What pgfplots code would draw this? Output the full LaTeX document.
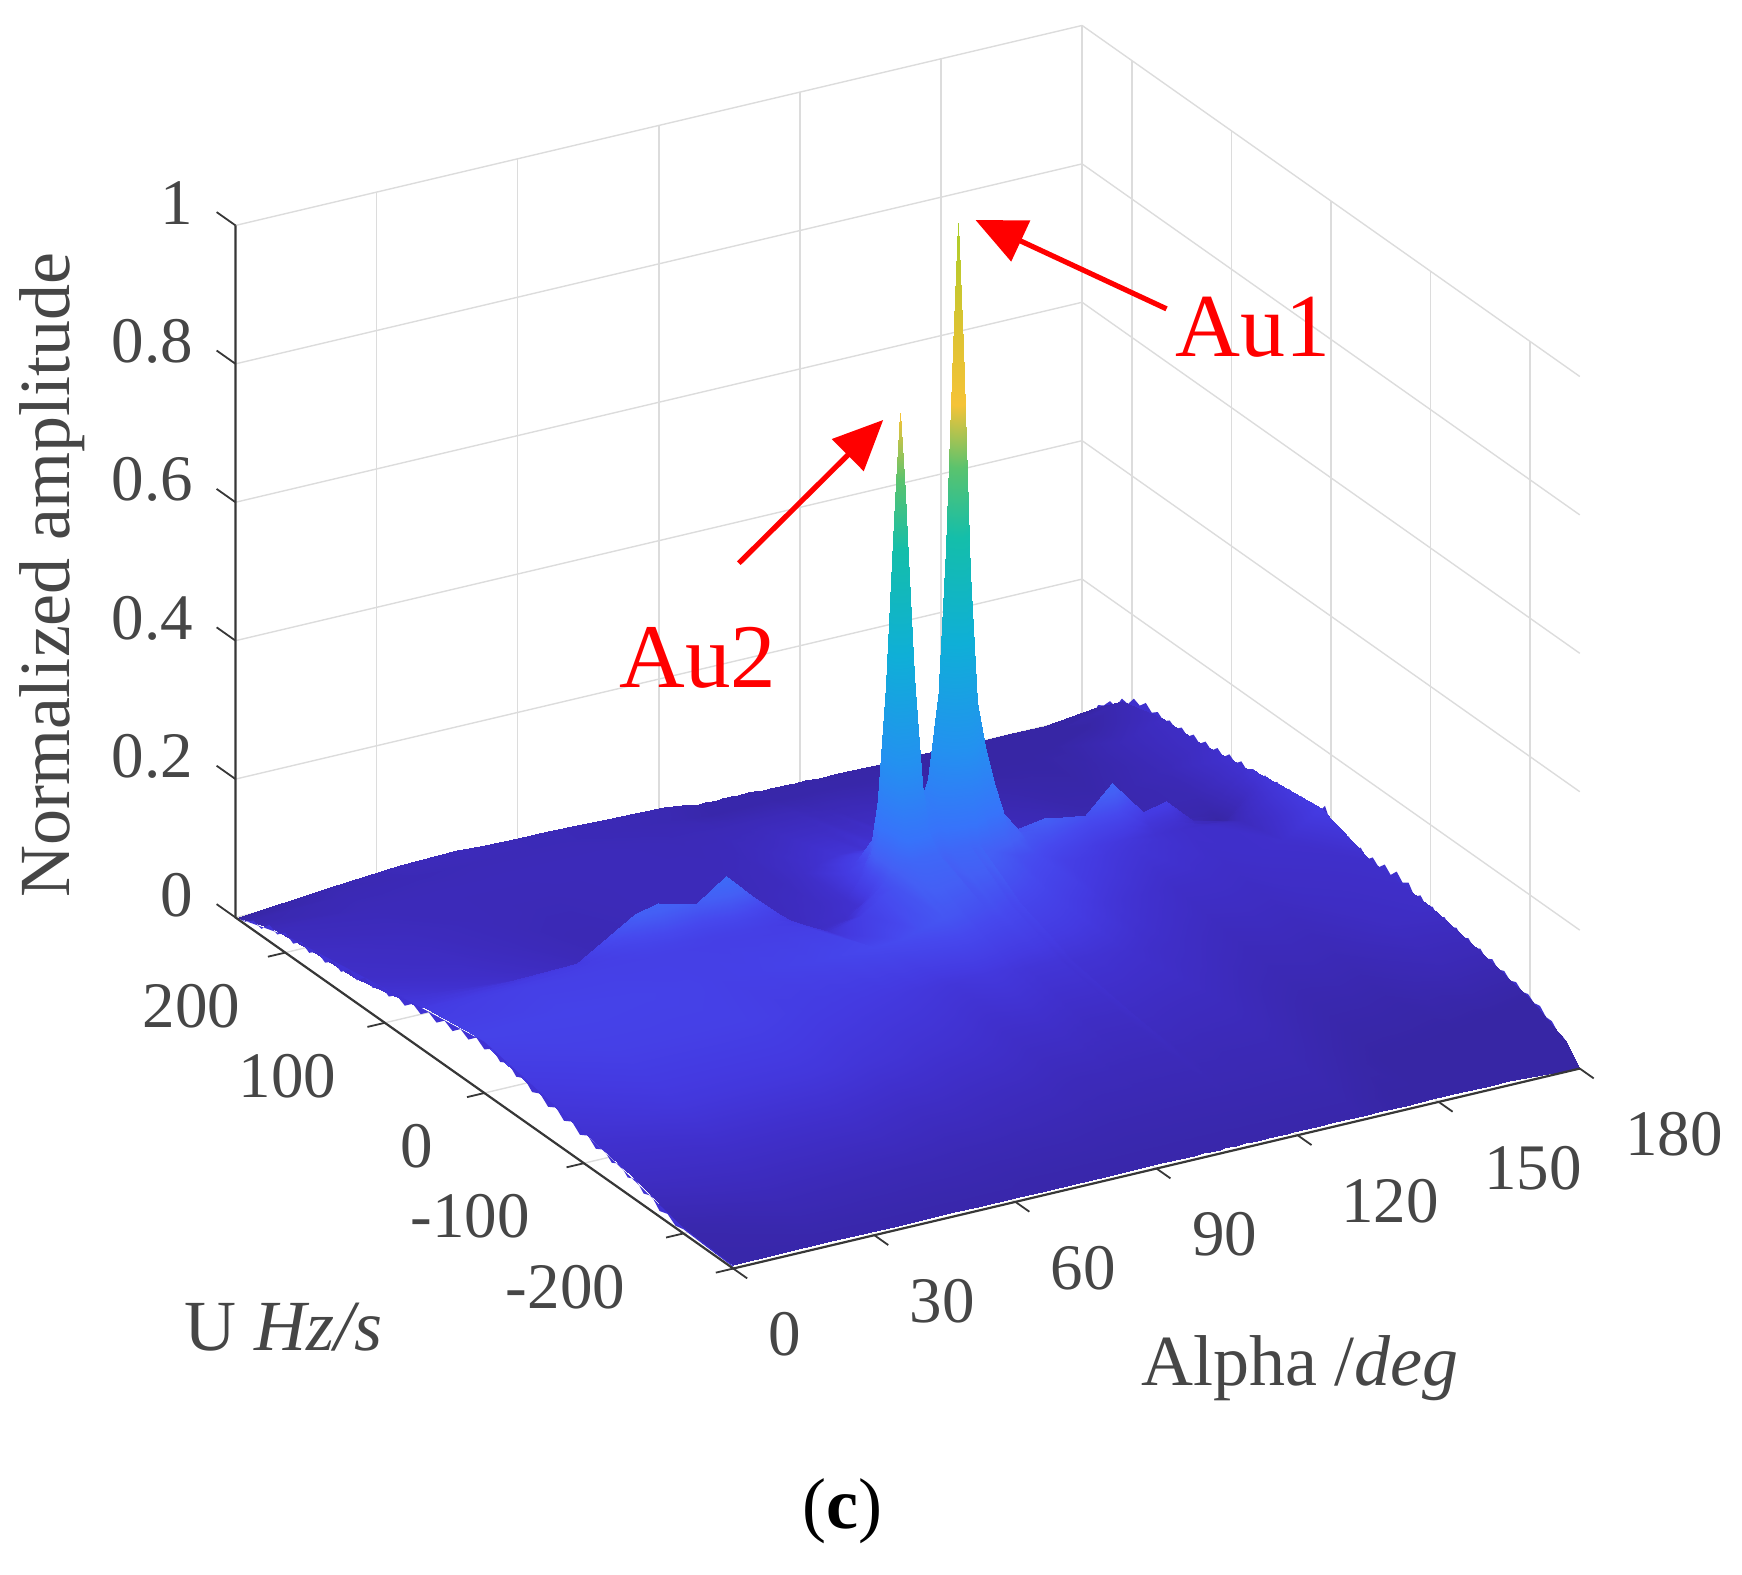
\documentclass[border=0pt]{standalone}
\usepackage{fontspec}
\setmainfont{Liberation Serif}
\usepackage{pgfplots}
\pgfplotsset{compat=1.18}
\usetikzlibrary{calc,arrows.meta}

\definecolor{axdark}{RGB}{55,55,55}
\definecolor{ticktext}{RGB}{70,70,70}
\definecolor{wall}{RGB}{220,220,220}
\definecolor{toothback}{RGB}{62,48,205}
\definecolor{toothfront}{RGB}{64,50,212}

\pgfplotsset{
  colormap={lit parula}{
    rgb255(0pt)=(55,38,165); rgb255(20pt)=(60,42,185); rgb255(40pt)=(64,48,205);
    rgb255(60pt)=(68,58,225); rgb255(85pt)=(70,72,238); rgb255(110pt)=(68,95,245);
    rgb255(150pt)=(55,115,250); rgb255(250pt)=(35,145,240); rgb255(400pt)=(15,175,215);
    rgb255(550pt)=(20,190,170); rgb255(650pt)=(90,195,110); rgb255(740pt)=(245,195,55);
    rgb255(850pt)=(220,195,50); rgb255(1000pt)=(170,205,40)
  }
}

% surface values, one \row per Alpha, z in the order of the U values below
\def\ulist{250,235,210,170,130,100,85.5,79.5,75.5,73,71,69,66.5,63,58,50.5,10,-40,-100,-150,-200,-235,-250}
\def\surfpts{}
\def\stepp#1,#2;#3,#4;{\xdef\surfpts{\surfpts(\cura,#1,#3) }\ifx\relax#2\relax\else\stepp#2;#4;\fi}
\newcommand\row[2]{\def\cura{#1}\edef\tmp{\noexpand\stepp\ulist,;#2,;}\tmp}

\row{180}{0,.03,.065,.08,.083,.092,.094,.098,.10,.10,.10,.101,.101,.102,.103,.105,.113,.087,.083,.068,.05,.026,0}
\row{172}{0,.012,.04,.06,.06,.055,.05,.045,.04,.04,.04,.045,.05,.055,.06,.065,.08,.075,.07,.058,.04,.02,.003}
\row{165}{.001,.006,.022,.04,.045,.045,.045,.05,.055,.056,.058,.06,.06,.06,.065,.07,.07,.065,.055,.045,.03,.015,.006}
\row{160}{.001,.005,.018,.03,.035,.04,.042,.05,.07,.085,.093,.09,.08,.072,.066,.066,.062,.055,.045,.035,.024,.012,.006}
\row{155}{.001,.005,.016,.026,.03,.035,.04,.048,.062,.078,.085,.082,.074,.07,.066,.066,.058,.05,.04,.03,.02,.01,.006}
\row{148.5}{.002,.006,.014,.022,.03,.035,.045,.06,.09,.12,.137,.125,.105,.085,.07,.065,.05,.04,.03,.022,.014,.008,.006}
\row{143}{.002,.005,.013,.02,.028,.033,.04,.055,.08,.095,.10,.098,.09,.08,.07,.065,.05,.038,.027,.02,.013,.007,.006}
\row{138}{.002,.004,.012,.019,.026,.031,.04,.055,.08,.098,.105,.102,.095,.085,.075,.067,.05,.037,.026,.019,.012,.007,.006}
\row{134}{.002,.004,.012,.018,.025,.03,.04,.055,.08,.10,.11,.108,.10,.09,.08,.07,.052,.036,.026,.018,.012,.007,.006}
\row{128}{.003,.004,.013,.025,.035,.05,.069,.076,.094,.10,.10,.10,.104,.102,.096,.088,.063,.042,.027,.018,.012,.007,.006}
\row{124}{.003,.005,.014,.027,.039,.057,.088,.107,.133,.143,.144,.143,.14,.134,.117,.094,.07,.044,.028,.018,.012,.007,.006}
\row{121}{.004,.005,.015,.028,.04,.064,.107,.157,.212,.237,.242,.237,.22,.187,.144,.103,.072,.046,.029,.019,.012,.007,.006}
\row{119}{.004,.005,.015,.028,.042,.068,.11,.18,.27,.32,.33,.32,.28,.21,.15,.108,.073,.046,.03,.019,.012,.007,.006}
\row{117.7}{.004,.005,.015,.028,.043,.072,.13,.23,.40,.52,.56,.52,.40,.27,.17,.111,.073,.046,.03,.019,.012,.007,.006}
\row{116.7}{.004,.005,.015,.03,.045,.077,.138,.27,.50,.73,.82,.73,.51,.30,.18,.112,.073,.046,.03,.02,.012,.007,.006}
\row{115.7}{.004,.005,.015,.032,.045,.078,.149,.297,.586,.887,1.0,.885,.6,.345,.2,.125,.08,.05,.035,.022,.012,.007,.006}
\row{114.7}{.004,.005,.015,.03,.045,.077,.14,.27,.50,.73,.82,.73,.51,.30,.18,.115,.075,.047,.03,.02,.012,.007,.006}
\row{113.7}{.004,.005,.016,.03,.046,.08,.14,.24,.41,.53,.57,.53,.41,.28,.18,.125,.08,.05,.03,.02,.012,.007,.006}
\row{112.2}{.004,.005,.016,.03,.047,.085,.13,.2,.28,.33,.34,.33,.29,.23,.17,.125,.08,.05,.03,.02,.012,.007,.006}
\row{110.2}{.006,.006,.018,.033,.049,.08,.115,.16,.2,.212,.215,.212,.205,.19,.155,.122,.083,.05,.03,.02,.012,.007,.006}
\row{108.9}{.006,.006,.018,.032,.045,.07,.10,.135,.17,.18,.18,.18,.175,.17,.145,.11,.08,.05,.03,.02,.012,.007,.006}
\row{106.9}{.006,.006,.018,.032,.048,.081,.115,.15,.19,.2,.2,.2,.195,.175,.15,.124,.082,.05,.03,.02,.012,.007,.006}
\row{105.4}{.006,.006,.018,.032,.048,.08,.138,.225,.36,.44,.46,.44,.365,.26,.175,.123,.082,.052,.032,.02,.012,.007,.006}
\row{104.4}{.006,.006,.018,.032,.048,.08,.14,.243,.418,.568,.628,.568,.42,.278,.179,.123,.082,.052,.032,.02,.012,.007,.006}
\row{103.4}{.006,.006,.018,.032,.048,.079,.138,.25,.455,.66,.744,.66,.46,.286,.18,.122,.084,.054,.033,.02,.012,.007,.006}
\row{102.4}{.006,.006,.018,.032,.048,.078,.135,.235,.41,.56,.62,.56,.415,.27,.175,.12,.084,.054,.033,.02,.012,.007,.006}
\row{101.4}{.006,.006,.018,.032,.046,.075,.125,.22,.35,.43,.45,.43,.355,.255,.17,.118,.084,.055,.034,.021,.012,.007,.006}
\row{99.9}{.006,.006,.018,.03,.044,.07,.09,.125,.15,.165,.17,.165,.155,.145,.125,.11,.084,.056,.035,.021,.012,.007,.006}
\row{97.9}{.006,.006,.018,.028,.04,.06,.07,.085,.09,.095,.095,.095,.095,.095,.095,.09,.08,.056,.035,.021,.012,.007,.006}
\row{95}{.01,.008,.018,.026,.034,.04,.04,.042,.043,.044,.045,.05,.055,.065,.075,.08,.074,.055,.035,.021,.012,.007,.006}
\row{91}{.013,.012,.018,.022,.025,.03,.033,.035,.036,.036,.036,.036,.038,.042,.05,.06,.066,.052,.035,.022,.012,.007,.006}
\row{85}{.015,.014,.018,.02,.022,.025,.027,.028,.03,.03,.03,.03,.032,.034,.038,.044,.064,.055,.04,.025,.013,.007,.006}
\row{79}{.016,.016,.019,.02,.02,.022,.025,.03,.04,.05,.052,.054,.056,.058,.06,.062,.064,.058,.043,.026,.014,.007,.006}
\row{72.6}{.017,.017,.02,.02,.02,.022,.028,.04,.065,.085,.093,.09,.08,.072,.066,.064,.064,.06,.045,.028,.014,.007,.006}
\row{66.5}{.018,.018,.02,.02,.02,.022,.028,.045,.09,.122,.135,.122,.1,.08,.07,.066,.066,.062,.048,.03,.015,.007,.006}
\row{60}{.018,.018,.02,.019,.018,.02,.027,.042,.075,.098,.105,.1,.09,.078,.07,.068,.068,.064,.05,.03,.015,.008,.006}
\row{52}{.02,.018,.02,.018,.016,.018,.026,.042,.08,.11,.119,.112,.098,.084,.074,.07,.07,.068,.054,.033,.016,.008,.006}
\row{47}{.022,.018,.02,.018,.016,.018,.025,.04,.075,.102,.111,.105,.092,.08,.073,.07,.072,.07,.055,.035,.016,.008,.006}
\row{35}{.02,.017,.02,.02,.022,.026,.03,.038,.048,.056,.06,.062,.064,.066,.068,.07,.074,.07,.055,.035,.017,.008,.006}
\row{20}{.012,.016,.02,.025,.03,.035,.04,.046,.05,.054,.055,.057,.06,.062,.066,.07,.075,.07,.055,.035,.018,.008,.006}
\row{0}{0,.01,.022,.03,.035,.045,.05,.052,.053,.055,.055,.056,.057,.06,.062,.065,.074,.06,.045,.03,.008,.005,.005}

\newcommand\plotsurface[1]{%
  \addplot3[surf, shader=interp, z buffer=sort, mesh/ordering=y varies, mesh/rows=23, mesh/cols=41,
    point meta={max(0,z-0.05*max(0,x-135)/45+0.025*max(0,1-abs(x-90)/35)*max(0,1-abs(y-15)/50))}] coordinates {#1};}

\begin{document}
\begin{tikzpicture}
\begin{axis}[
  clip=false,
  x={(2.352pt,0.5556pt)}, y={(-0.4978pt,0.3511pt)}, z={(0pt,346.1pt)},
  xmin=0, xmax=180, ymin=-250, ymax=250, zmin=0, zmax=1,
  colormap name=lit parula,
  point meta min=0, point meta max=1,
  xtick={0,30,60,90,120,150,180},
  ytick={-200,-100,0,100,200},
  ztick={0,0.2,0.4,0.6,0.8,1},
  xticklabels={0,30,60,90,\hspace{4pt}120,\hspace{5pt}150,\hspace{5pt}180},
  yticklabels={-200\hspace{3.3pt}\null,-100\hspace{1.1pt}\null,0,100\hspace{-1.7pt}\null,200\hspace{-3.3pt}\null},
  zticklabels={0,0.2,0.4,0.6,0.8,1},
  grid=major,
  grid style={wall, line width=0.7pt},
  axis line style={draw=none},
  tick align=outside,
  major tick length=10pt,
  tick style={draw=none},
  tick label style={font=\fontsize{32.5}{36}\selectfont, text=ticktext, inner sep=0pt},
  xticklabel style={anchor=west, xshift=9.4pt, yshift=-27.2pt},
  yticklabel style={anchor=east, xshift=-16pt, yshift=-24.4pt},
  zticklabel style={anchor=east, xshift=-12.8pt, yshift=5.5pt},
  label style={font=\fontsize{36}{40}\selectfont, text=ticktext},
  xlabel={Alpha /\textit{deg}},
  ylabel={U \textit{Hz/s}},
  zlabel={Normalized amplitude},
  xlabel style={at={(axis cs:120.5,-250,-0.338)}, anchor=center},
  ylabel style={at={(axis cs:0,202,-0.5437)}, anchor=center},
  zlabel style={at={(axis cs:0,434.1,0.308)}, anchor=center},
]
\addplot3[fill=toothback, draw=none] coordinates {
  (180,250,0)(180,240,.012)(180,234,.034)(180,228,.04)(180,222,.052)(180,216,.05)(180,210,.068)(180,204,.066)
  (180,198,.08)(180,192,.076)(180,186,.086)(180,180,.078)(180,174,.085)(180,168,.078)(180,162,.085)(180,156,.079)
  (180,150,.087)(180,144,.08)(180,138,.089)(180,132,.082)(180,126,.091)(180,120,.084)(180,114,.094)(180,108,.087)
  (180,102,.097)(180,96,.09)(180,90,.099)(180,84,.091)(180,78,.1)(180,72,.093)(180,66,.103)(180,60,.096)
  (180,54,.106)(180,48,.098)(180,42,.108)(180,36,.1)(180,30,.11)(180,24,.102)(180,18,.112)(180,12,.105)
  (180,6,.12)(180,0,.1)(180,-6,.105)(180,-12,.092)(180,-18,.1)(180,-24,.088)(180,-30,.096)(180,-36,.085)
  (180,-42,.094)(180,-48,.086)(180,-54,.096)(180,-60,.087)(180,-66,.098)(180,-72,.088)(180,-78,.094)(180,-84,.08)
  (180,-90,.088)(180,-96,.077)(180,-102,.084)(180,-108,.074)(180,-114,.081)(180,-120,.072)(180,-126,.078)(180,-132,.069)
  (180,-138,.075)(180,-144,.066)(180,-150,.072)(180,-156,.063)(180,-162,.069)(180,-168,.06)(180,-174,.064)(180,-180,.056)
  (180,-186,.06)(180,-192,.052)(180,-198,.055)(180,-204,.048)(180,-210,.05)(180,-216,.04)(180,-222,.04)(180,-228,.03)
  (180,-234,.028)(180,-240,.016)(180,-246,.008)(180,-250,0)};
\expandafter\plotsurface\expandafter{\surfpts}
\addplot3[fill=toothfront, draw=none] coordinates {
  (0,250,0)(0,240,.004)(0,232,.014)(0,224,.01)(0,216,.024)(0,208,.018)(0,200,.029)(0,192,.021)(0,184,.032)(0,176,.024)
  (0,168,.034)(0,160,.026)(0,152,.036)(0,144,.029)(0,136,.04)(0,128,.033)(0,120,.045)(0,112,.038)(0,104,.05)(0,96,.042)
  (0,88,.052)(0,80,.045)(0,72,.056)(0,64,.049)(0,56,.06)(0,48,.053)(0,40,.064)(0,32,.057)(0,24,.068)(0,16,.061)
  (0,8,.072)(0,0,.063)(0,-8,.072)(0,-16,.061)(0,-24,.068)(0,-32,.056)(0,-40,.062)(0,-48,.05)(0,-56,.056)(0,-64,.045)
  (0,-72,.052)(0,-80,.041)(0,-88,.048)(0,-96,.037)(0,-104,.044)(0,-112,.033)(0,-120,.04)(0,-128,.029)(0,-136,.036)(0,-144,.024)
  (0,-152,.03)(0,-160,.017)(0,-168,.022)(0,-176,.008)(0,-184,.012)(0,-192,.003)(0,-200,.006)(0,-250,.002)
  (0,-250,.004)(0,-200,.008)(0,-100,.045)(0,0,.074)(0,100,.05)(0,200,.025)(0,250,0)};
% the three dark axis lines in front of the surface, with their outward ticks
\draw[axdark, line width=1.1pt] (axis cs:0,250,1) -- (axis cs:0,250,0) -- (axis cs:0,-250,0) -- (axis cs:180,-250,0);
\pgfplotsinvokeforeach{0,30,60,90,120,150,180}{\draw[axdark, line width=0.9pt] (axis cs:#1,-250,0) -- (axis cs:#1,-264,0);}
\pgfplotsinvokeforeach{-250,-200,-100,0,100,200}{\draw[axdark, line width=0.9pt] (axis cs:0,#1,0) -- (axis cs:-3.7,#1,0);}
\pgfplotsinvokeforeach{0,0.2,0.4,0.6,0.8,1}{\draw[axdark, line width=0.9pt] (axis cs:0,250,#1) -- (axis cs:0,269,#1);}
\coordinate (O) at (axis cs:0,-250,0);
\end{axis}
\begin{scope}[shift={($(O)+(-366.7pt,634.4pt)$)}, x=0.5556pt, y=-0.5556pt]
  \draw[red, line width=2.6pt, -{Triangle[length=25pt,width=22pt]}] (1050,278) -- (878,198);
  \draw[red, line width=2.6pt, -{Triangle[length=25pt,width=22pt]}] (665,507) -- (795,378);
  \node[red, font=\fontsize{45}{49}\selectfont, inner sep=0pt] at (1128,295) {Au1};
  \node[red, font=\fontsize{45.5}{49}\selectfont, inner sep=0pt] at (628,592) {Au2};
  \node[font=\fontsize{36}{40}\selectfont, inner sep=0pt] at (758,1360) {(\textbf{c})};
  \pgfresetboundingbox
  \path[use as bounding box] (0,0) rectangle (1568,1417);
\end{scope}
\end{tikzpicture}
\end{document}
